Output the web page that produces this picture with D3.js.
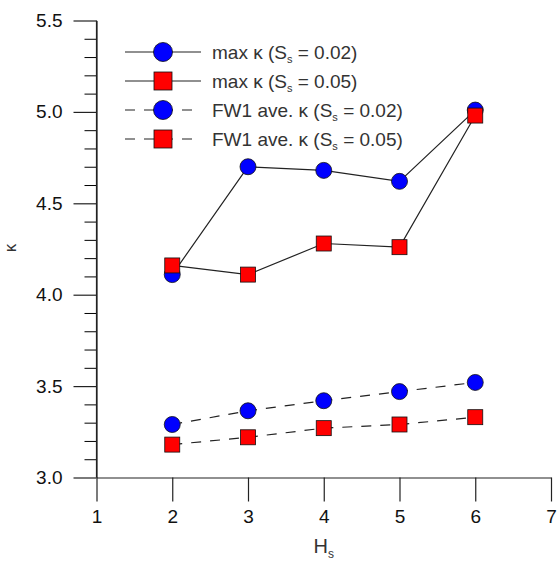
<!DOCTYPE html>
<html>
<head>
<meta charset="utf-8">
<script src="https://cdn.jsdelivr.net/npm/d3@7/dist/d3.min.js"></script>
<style>
  html, body { margin: 0; padding: 0; background: #fff; }
  svg { display: block; font-family: "Liberation Sans", Arial, sans-serif; }
</style>
</head>
<body>
<svg id="chart" width="557" height="563"></svg>
<script>
// Wave height H_s on the x axis
const hs = [2, 3, 4, 5, 6];

// kappa values for each series
const maxK002 = [4.11, 4.70, 4.68, 4.62, 5.01];
const maxK005 = [4.16, 4.11, 4.28, 4.26, 4.98];
const aveK002 = [3.29, 3.365, 3.42, 3.47, 3.52];
const aveK005 = [3.18, 3.22, 3.27, 3.29, 3.33];

const xTickValues = [1, 2, 3, 4, 5, 6, 7];
const yTickValues = [3.0, 3.5, 4.0, 4.5, 5.0, 5.5];

const seriesNames = ["max κ", "max κ", "FW1 ave. κ", "FW1 ave. κ"];
const seriesSs = ["0.02", "0.05", "0.02", "0.05"];
const seriesData = [maxK002, maxK005, aveK002, aveK005];
const seriesShape = ["circle", "square", "circle", "square"];
const seriesDashed = [false, false, true, true];

const BLUE = "#0000ff", RED = "#ff0000", INK = "#222";

const svg = d3.select("#chart");
const x = d3.scaleLinear().domain([1, 7]).range([96.5, 551]);
const y = d3.scaleLinear().domain([3, 5.5]).range([477.5, 20.5]);

// Axes: long outward major ticks, shorter minor ticks on y
const yMinor = d3.range(30, 56).map(v => v / 10).filter(v => !yTickValues.some(t => Math.abs(t - v) < 1e-9));
svg.append("g").attr("transform", `translate(${x(1)},0)`)
  .call(d3.axisLeft(y).tickValues(yMinor).tickSize(12).tickSizeOuter(0).tickFormat(""))
  .call(g => g.select(".domain").remove());
const yAxis = svg.append("g").attr("transform", `translate(${x(1)},0)`)
  .call(d3.axisLeft(y).tickValues(yTickValues).tickSize(23).tickSizeOuter(0)
    .tickPadding(11).tickFormat(d3.format(".1f")));
const xAxis = svg.append("g").attr("transform", `translate(0,${y(3)})`)
  .call(d3.axisBottom(x).tickValues(xTickValues).tickSize(24).tickSizeOuter(0)
    .tickPadding(8).tickFormat(d3.format("d")));
[yAxis, xAxis].forEach(g => {
  g.selectAll("path, line").attr("stroke", INK).attr("stroke-width", 1.2);
  g.selectAll("text").attr("font-size", 19).attr("fill", "#111")
    .attr("font-family", "Liberation Sans, Arial, sans-serif");
});
// y axis line continues down along the first x tick
svg.append("line").attr("x1", x(1)).attr("x2", x(1)).attr("y1", y(5.5)).attr("y2", y(3))
  .attr("stroke", INK).attr("stroke-width", 1.2);

// Axis titles
svg.append("text").attr("transform", `translate(16,248) rotate(-90)`)
  .attr("text-anchor", "middle").attr("font-size", 17).attr("fill", "#333").text("κ");
const xt = svg.append("text").attr("x", x(4)).attr("y", 553)
  .attr("text-anchor", "middle").attr("font-size", 20).attr("fill", "#333");
xt.append("tspan").text("H");
xt.append("tspan").attr("font-size", 12).attr("dy", 5).text("s");

function drawMarker(g, shape, cx, cy, size) {
  if (shape === "circle") {
    g.append("circle").attr("cx", cx).attr("cy", cy).attr("r", size / 2)
      .attr("fill", BLUE).attr("stroke", "#111").attr("stroke-width", 0.8);
  } else {
    g.append("rect").attr("x", cx - size / 2).attr("y", cy - size / 2)
      .attr("width", size).attr("height", size)
      .attr("fill", RED).attr("stroke", "#111").attr("stroke-width", 0.8);
  }
}

const line = d3.line().x((d, i) => x(hs[i])).y(d => y(d));
const plot = svg.append("g");
seriesData.forEach((vals, k) => {
  const g = plot.append("g");
  g.append("path").datum(vals).attr("d", line).attr("fill", "none")
    .attr("stroke", INK).attr("stroke-width", 1.2)
    .attr("stroke-dasharray", seriesDashed[k] ? "10,9" : null);
  vals.forEach((v, i) => drawMarker(g, seriesShape[k], x(hs[i]), y(v), seriesShape[k] === "circle" ? 16 : 15));
});

// Legend
const legend = svg.append("g");
seriesData.forEach((_, k) => {
  const ly = 52 + k * 29;
  const g = legend.append("g");
  g.append("line").attr("x1", 125).attr("x2", 201).attr("y1", ly).attr("y2", ly)
    .attr("stroke", INK).attr("stroke-width", 1.2)
    .attr("stroke-dasharray", seriesDashed[k] ? "10,9" : null);
  drawMarker(g, seriesShape[k], 163, ly, seriesShape[k] === "circle" ? 19 : 18);
  const t = g.append("text").attr("x", 212).attr("y", ly + 6.5)
    .attr("font-size", 19).attr("fill", "#333");
  t.append("tspan").text(`${seriesNames[k]} (S`);
  t.append("tspan").attr("font-size", 11).attr("dy", 4).text("s");
  t.append("tspan").attr("dy", -4).text(` = ${seriesSs[k]})`);
});
</script>
</body>
</html>
